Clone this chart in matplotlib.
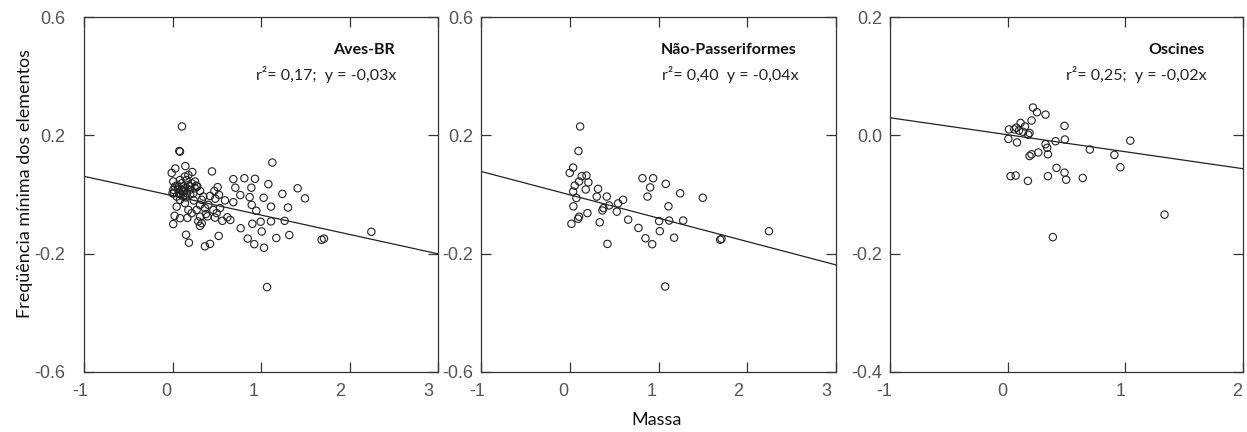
import matplotlib
matplotlib.use("Agg")
import matplotlib.pyplot as plt
import matplotlib.transforms as mtransforms
import numpy as np

# ---------------- data ----------------
aves_x = [0.107, 0.077, 0.085, 1.128, 0.446, 0.687, 0.812, 0.932, 1.083, 0.710,
          0.891, 1.414, 1.241, 1.497, 0.766, 0.872, 1.030, 1.113, 1.305, 0.895,
          0.947, 0.687, 0.593, 0.510, 0.473, 0.424, 0.525, 0.484, 0.996, 1.113,
          1.267, 0.902, 0.770, 1.008, 0.850, 0.924, 1.034, 1.173, 1.320, 0.522,
          0.153, 0.186, 0.367, 0.424, 0.009, 0.024, 0.085, 0.168, 0.311, 0.330,
          0.563, 0.620, 0.653, 0.480, 0.499, 0.378, 0.311, 1.712, 1.685, 2.247,
          1.068, -0.009, 0.032, 0.145, 0.224, 0.009, 0.017, 0.047, 0.311, 0.281,
          0.311, 0.348, 0.405, 0.461, 0.537, 0.273, 0.217, 0.179, 0.141, 0.122,
          0.066, 0.104, 0.160, 0.198, 0.235, 0.009, 0.000, 0.047, 0.085, 0.104,
          0.141, 0.179, 0.217, 0.077, 0.115, 0.160, 0.198, 0.254, 0.141, 0.179,
          0.254, 0.028, 0.055, 0.085, 0.122, 0.330, 0.367, 0.395, 0.292, 0.130,
          0.095, 0.060, 0.150, 0.200, 0.240, 0.270]
aves_y = [0.230, 0.147, 0.145, 0.108, 0.078, 0.052, 0.055, 0.053, 0.035, 0.023,
          0.023, 0.021, 0.002, -0.013, -0.002, -0.009, -0.011, -0.041, -0.044, -0.035,
          -0.055, -0.026, -0.020, 0.025, 0.012, -0.005, -0.001, -0.014, -0.092, -0.091,
          -0.089, -0.099, -0.114, -0.125, -0.149, -0.168, -0.180, -0.147, -0.137, -0.140,
          -0.136, -0.163, -0.175, -0.167, -0.100, -0.072, -0.080, -0.079, -0.106, -0.097,
          -0.089, -0.077, -0.086, -0.078, -0.063, -0.066, -0.075, -0.149, -0.153, -0.126,
          -0.313, 0.073, 0.088, 0.096, 0.076, 0.044, 0.004, -0.041, -0.035, 0.027,
          0.012, -0.007, -0.035, -0.052, -0.046, -0.052, -0.063, -0.052, -0.029, -0.007,
          0.016, 0.038, 0.049, 0.027, 0.004, 0.016, 0.004, -0.007, -0.018, 0.016,
          0.021, 0.032, 0.038, 0.004, 0.010, 0.004, 0.016, 0.021, 0.061, 0.066,
          0.044, 0.027, 0.032, 0.049, 0.027, -0.018, -0.046, -0.074, -0.091, 0.010,
          0.000, 0.020, -0.010, 0.000, -0.020, 0.030]

naopass_x = [0.117, 0.098, 0.038, 0.000, 0.135, 0.188, 0.105, 0.210, 0.180, 0.056,
             0.038, 0.075, 0.319, 0.304, 0.417, 0.601, 0.545, 0.443, 0.380, 0.368,
             0.530, 0.658, 0.041, 0.199, 0.105, 0.094, 0.019, 0.338, 0.425, 0.774,
             0.819, 0.940, 0.906, 0.876, 1.082, 1.244, 1.112, 1.007, 1.120, 1.278,
             1.015, 1.176, 0.853, 0.929, 1.075, 1.499, 1.710, 1.695, 2.244]
naopass_y = [0.230, 0.147, 0.091, 0.073, 0.062, 0.064, 0.044, 0.041, 0.017, 0.030,
             0.010, -0.012, 0.019, -0.007, -0.007, -0.018, -0.030, -0.037, -0.046, -0.054,
             -0.058, -0.085, -0.040, -0.063, -0.075, -0.082, -0.099, -0.094, -0.167, -0.113,
             0.055, 0.055, 0.024, -0.007, 0.036, 0.004, -0.040, -0.090, -0.088, -0.088,
             -0.124, -0.146, -0.148, -0.168, -0.311, -0.011, -0.150, -0.153, -0.124]

oscines_x = [0.215, 0.249, 0.322, 0.203, 0.483, 0.110, 0.147, 0.073, 0.011, 0.056,
             0.096, 0.130, 0.186, 0.175, 0.006, 0.079, 0.486, 0.407, 0.322, 0.336,
             1.042, 0.698, 0.907, 0.958, 0.260, 0.203, 0.186, 0.342, 0.415, 0.483,
             0.497, 0.342, 0.638, 0.025, 0.068, 0.172, 0.384, 1.333]
oscines_y = [0.047, 0.039, 0.035, 0.025, 0.016, 0.021, 0.015, 0.013, 0.010, 0.010,
             0.008, 0.006, 0.004, 0.001, -0.006, -0.012, -0.007, -0.010, -0.015, -0.021,
             -0.009, -0.024, -0.033, -0.054, -0.029, -0.032, -0.035, -0.032, -0.055, -0.063,
             -0.075, -0.069, -0.072, -0.069, -0.068, -0.077, -0.172, -0.134]

titles = ["Aves-BR", "Não-Passeriformes", "Oscines"]
stats = ["r²= 0,17;  y = -0,03x", "r²= 0,40  y = -0,04x", "r²= 0,25;  y = -0,02x"]
slopes = [-0.0655, -0.079, -0.0287]
intercepts = [-0.004, -0.001, 0.001]
xlims = [(-1, 3), (-1, 3), (-1, 2)]
ylims = [(-0.6, 0.6), (-0.6, 0.6), (-0.4, 0.2)]
xticks = [[-1, 0, 1, 2, 3], [-1, 0, 1, 2, 3], [-1, 0, 1, 2]]
yticks = [[-0.6, -0.2, 0.2, 0.6], [-0.6, -0.2, 0.2, 0.6], [-0.4, -0.2, 0.0, 0.2]]

xs = [aves_x, naopass_x, oscines_x]
ys = [aves_y, naopass_y, oscines_y]

# ---------------- figure ----------------
W, H = 1247, 432
fig = plt.figure(figsize=(W / 100, H / 100), dpi=100)
boxes = [(84, 438), (481, 836), (890, 1243)]
top_px, bot_px = 17, 372
text_font = ["Lato", "DejaVu Sans"]
tick_color = "#555555"
ypads = [13.5, 5.5, 5.5]
xlabel_shift = [[-4, -6, -7, -9, -10], [-4, -6, -7, -9, -10], [-6, -5, -5, -6]]

for i in range(3):
    l, r = boxes[i]
    ax = fig.add_axes([l / W, (H - bot_px) / H, (r - l) / W, (bot_px - top_px) / H])
    ax.scatter(xs[i], ys[i], s=28, facecolors="none", edgecolors="#222222",
               linewidths=0.8, zorder=3)
    lx = np.array(xlims[i], dtype=float)
    ax.plot(lx, slopes[i] * lx + intercepts[i], color="#222222", lw=0.9, zorder=2)
    ax.set_xlim(*xlims[i])
    ax.set_ylim(*ylims[i])
    ax.set_xticks(xticks[i])
    ax.set_yticks(yticks[i])
    ax.set_yticklabels([f"{v:.1f}" for v in yticks[i]])
    ax.set_xticklabels([str(v) for v in xticks[i]])
    ax.tick_params(direction="in", length=7, width=0.9, color="#333333",
                   top=True, right=True, labelsize=13, labelcolor=tick_color)
    ax.tick_params(axis="y", pad=ypads[i])
    ax.tick_params(axis="x", pad=8)
    for lab in ax.get_xticklabels() + ax.get_yticklabels():
        lab.set_family(["Liberation Sans", "DejaVu Sans"])
    for lab, dx in zip(ax.get_xticklabels(), xlabel_shift[i]):
        off = mtransforms.ScaledTranslation(dx / 100, 0, fig.dpi_scale_trans)
        lab.set_transform(lab.get_transform() + off)
    for sp in ax.spines.values():
        sp.set_color("#333333")
        sp.set_linewidth(0.9)
    tx = [0.879, 0.890, 0.892][i]
    ax.text(tx, 0.907, titles[i], transform=ax.transAxes, ha="right", va="center",
            fontsize=11.5, fontweight="bold", family=text_font, color="#111111")
    ax.text(tx + 0.004, 0.839, stats[i], transform=ax.transAxes, ha="right",
            va="center", fontsize=11.5, family=text_font, color="#222222")

fig.text(25 / W, 1 - 183 / H, "Freqüência mínima dos elementos", rotation=90,
         ha="center", va="center", fontsize=13, family=text_font, color="#111111")
fig.text(657 / W, 1 - 420 / H, "Massa", ha="center", va="center", fontsize=13,
         family=text_font, color="#111111")

fig.savefig("out.png", dpi=100)
